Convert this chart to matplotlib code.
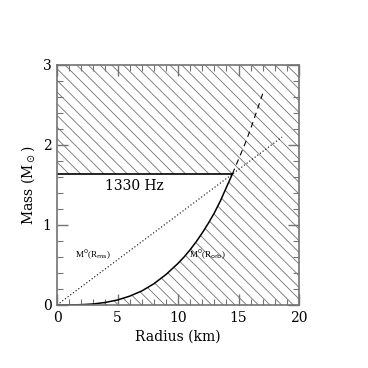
import matplotlib
matplotlib.use("Agg")
import matplotlib.pyplot as plt
import numpy as np

# Mass limit from 1330 Hz spin and the two mass-radius curves
f_limit = 1330
m_max = 1.64
r_cross = 14.5

r_orb = [0, 1, 2, 3, 4, 5, 6, 7, 8, 9, 10, 10.5, 11, 11.5, 12, 12.5, 13, 13.5, 14, 14.5]
m_orb = [0, 0.001, 0.004, 0.013, 0.032, 0.063, 0.11, 0.175, 0.265, 0.38, 0.52, 0.6,
         0.69, 0.79, 0.9, 1.02, 1.15, 1.3, 1.47, 1.64]

r_orb_ext = [14.5, 15, 15.5, 16, 16.5, 17, 17.1]
m_orb_ext = [1.64, 1.82, 2.0, 2.2, 2.42, 2.64, 2.69]

r_ms = [0, 18.6]
m_ms = [0, 2.1]

# dpi 70 so a '\\' hatch gives ~11.7 px line spacing; k rescales sizes to px
DPI = 70
k = 100 / DPI

plt.rcParams['hatch.linewidth'] = 0.6 * k
plt.rcParams['font.family'] = ['DejaVu Serif']

fig = plt.figure(figsize=(368 / DPI, 368 / DPI), dpi=DPI)
ax = fig.add_axes([0.1549, 0.1712, 0.6576, 0.6522])

# hatched regions: above the spin limit, and below the orbit curve
hatch = '\\\\'
ax.fill_between([0, 20], m_max, 3, facecolor='none', edgecolor='0.45', hatch=hatch, lw=0)
xs = r_orb + [20]
ys = m_orb + [m_max]
ax.fill_between(xs, 0, ys, facecolor='none', edgecolor='0.45', hatch=hatch, lw=0)

ax.plot([0, r_cross], [m_max, m_max], color='k', lw=1.2 * k)
ax.plot(r_orb, m_orb, color='k', lw=1.1 * k)
ax.plot(r_orb_ext, m_orb_ext, color='k', lw=0.8 * k, ls=(0, (5, 4)))
ax.plot(r_ms, m_ms, color='k', lw=0.8 * k, ls=(0, (1, 2)))

ax.text(6.4, 1.49, f'{f_limit} Hz', ha='center', va='center', fontsize=10 * k)
ax.text(3.0, 0.625, r'M$^0$(R$_{\rm ms}$)', ha='center', va='center', fontsize=6.5 * k,
        family='Liberation Serif')
ax.text(12.45, 0.625, r'M$^0$(R$_{\rm orb}$)', ha='center', va='center', fontsize=6.5 * k,
        family='Liberation Serif')

ax.set_xlim(0, 20)
ax.set_ylim(0, 3)
ax.set_xticks([0, 5, 10, 15, 20])
ax.set_yticks([0, 1, 2, 3])
ax.set_xticks(np.arange(0, 21, 1), minor=True)
ax.set_yticks(np.arange(0, 3.01, 0.2), minor=True)
ax.tick_params(which='both', direction='in', top=True, right=True, color='0.45',
               labelsize=10 * k, pad=4 * k)
ax.tick_params(which='major', length=8 * k, width=1 * k)
ax.tick_params(which='minor', length=4 * k, width=0.8 * k)
for s in ax.spines.values():
    s.set_color('0.45')
    s.set_linewidth(1.2 * k)

ax.set_xlabel('Radius (km)', fontsize=10 * k, labelpad=4 * k)
ax.set_ylabel(r'Mass (M$_\odot$)', fontsize=10 * k, labelpad=4 * k)

fig.savefig('out.png', dpi=DPI)
